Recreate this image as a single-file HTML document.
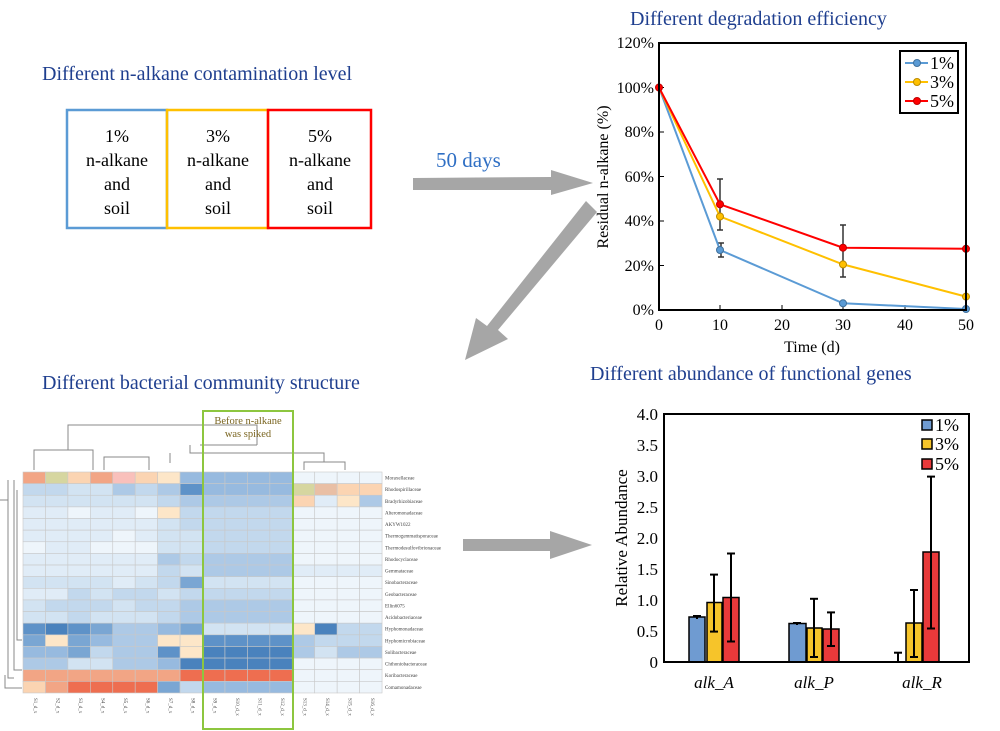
<!DOCTYPE html>
<html><head><meta charset="utf-8"><style>
html,body{margin:0;padding:0;background:#fff;}
svg{display:block;}
text{font-family:"Liberation Serif",serif;}
</style></head><body>
<svg width="1000" height="731" viewBox="0 0 1000 731" xmlns="http://www.w3.org/2000/svg">
<!-- Titles -->
<text x="42" y="80" font-size="20" fill="#1f3f8f">Different n-alkane contamination level</text>
<text x="630" y="25" font-size="20" fill="#1f3f8f">Different degradation efficiency</text>
<text x="42" y="389" font-size="20" fill="#1f3f8f">Different bacterial community structure</text>
<text x="590" y="380" font-size="20" fill="#1f3f8f">Different abundance of functional genes</text>

<!-- Boxes -->
<rect x="67" y="110" width="100" height="118" fill="none" stroke="#5b9bd5" stroke-width="2.5"/>
<rect x="167" y="110" width="101" height="118" fill="none" stroke="#ffc000" stroke-width="2.5"/>
<rect x="268" y="110" width="103" height="118" fill="none" stroke="#ff0000" stroke-width="2.5"/>
<g font-size="18" text-anchor="middle" fill="#000">
<text x="117" y="142">1%</text><text x="117" y="166">n-alkane</text><text x="117" y="190">and</text><text x="117" y="214">soil</text>
<text x="218" y="142">3%</text><text x="218" y="166">n-alkane</text><text x="218" y="190">and</text><text x="218" y="214">soil</text>
<text x="320" y="142">5%</text><text x="320" y="166">n-alkane</text><text x="320" y="190">and</text><text x="320" y="214">soil</text>
</g>
<text x="436" y="167" font-size="21" fill="#2f6fc4">50 days</text>

<!-- Arrows -->
<polygon points="413,178 551,177 551,170 593,183 551,195 551,190 413,190" fill="#a6a6a6"/>
<polygon points="586,201 597,212 498,330 508,339 465,360 476,318 487,326" fill="#a6a6a6"/>
<polygon points="463,539 550,539 550,531 592,545 550,559 550,551 463,551" fill="#a6a6a6"/>

<!-- Line chart -->
<g font-size="16" fill="#000">
<text x="654" y="315" text-anchor="end">0%</text>
<text x="654" y="271" text-anchor="end">20%</text>
<text x="654" y="226" text-anchor="end">40%</text>
<text x="654" y="182" text-anchor="end">60%</text>
<text x="654" y="137" text-anchor="end">80%</text>
<text x="654" y="93" text-anchor="end">100%</text>
<text x="654" y="48" text-anchor="end">120%</text>
<text x="659" y="330" text-anchor="middle">0</text>
<text x="720" y="330" text-anchor="middle">10</text>
<text x="782" y="330" text-anchor="middle">20</text>
<text x="843" y="330" text-anchor="middle">30</text>
<text x="905" y="330" text-anchor="middle">40</text>
<text x="966" y="330" text-anchor="middle">50</text>
<text x="812" y="352" text-anchor="middle">Time (d)</text>
<text transform="translate(608,177) rotate(-90)" text-anchor="middle">Residual n-alkane (%)</text>
</g>
<g stroke="#000" stroke-width="1">
<line x1="720" y1="310" x2="720" y2="305"/><line x1="782" y1="310" x2="782" y2="305"/><line x1="843" y1="310" x2="843" y2="305"/><line x1="905" y1="310" x2="905" y2="305"/>
<line x1="659" y1="265.5" x2="664" y2="265.5"/><line x1="659" y1="221" x2="664" y2="221"/><line x1="659" y1="176.5" x2="664" y2="176.5"/><line x1="659" y1="132" x2="664" y2="132"/><line x1="659" y1="87.5" x2="664" y2="87.5"/>
</g>
<g stroke="#333" stroke-width="1.5">
<line x1="720" y1="179" x2="720" y2="230"/><line x1="717" y1="179" x2="723" y2="179"/><line x1="717" y1="230" x2="723" y2="230"/>
<line x1="721" y1="243" x2="721" y2="257"/><line x1="718" y1="243" x2="724" y2="243"/><line x1="718" y1="257" x2="724" y2="257"/>
<line x1="843" y1="225" x2="843" y2="277"/><line x1="840" y1="225" x2="846" y2="225"/><line x1="840" y1="277" x2="846" y2="277"/>
<line x1="966" y1="279" x2="966" y2="310"/>
</g>
<polyline points="659,87.5 720,250 843,303.3 966,309" fill="none" stroke="#5b9bd5" stroke-width="2"/>
<polyline points="659,87.5 720,216.5 843,264.4 966,296.6" fill="none" stroke="#ffc000" stroke-width="2"/>
<polyline points="659,87.5 720,204.3 843,247.7 966,248.8" fill="none" stroke="#ff0000" stroke-width="2"/>
<g stroke-width="1">
<circle cx="720" cy="250" r="3.5" fill="#5b9bd5" stroke="#41719c"/><circle cx="843" cy="303.3" r="3.5" fill="#5b9bd5" stroke="#41719c"/><circle cx="966" cy="309" r="3.5" fill="#5b9bd5" stroke="#41719c"/>
<circle cx="720" cy="216.5" r="3.5" fill="#ffc000" stroke="#bc8c00"/><circle cx="843" cy="264.4" r="3.5" fill="#ffc000" stroke="#bc8c00"/><circle cx="966" cy="296.6" r="3.5" fill="#ffc000" stroke="#bc8c00"/>
<circle cx="659" cy="87.5" r="3.5" fill="#ff0000" stroke="#c00000"/><circle cx="720" cy="204.3" r="3.5" fill="#ff0000" stroke="#c00000"/><circle cx="843" cy="247.7" r="3.5" fill="#ff0000" stroke="#c00000"/><circle cx="966" cy="248.8" r="3.5" fill="#ff0000" stroke="#c00000"/>
</g>
<rect x="659" y="43" width="307" height="267" fill="none" stroke="#000" stroke-width="2"/>
<rect x="900" y="51" width="58" height="62" fill="#fff" stroke="#000" stroke-width="2"/>
<line x1="905" y1="63" x2="928" y2="63" stroke="#5b9bd5" stroke-width="2"/><circle cx="917" cy="63" r="3.5" fill="#5b9bd5" stroke="#41719c"/>
<line x1="905" y1="82" x2="928" y2="82" stroke="#ffc000" stroke-width="2"/><circle cx="917" cy="82" r="3.5" fill="#ffc000" stroke="#bc8c00"/>
<line x1="905" y1="101" x2="928" y2="101" stroke="#ff0000" stroke-width="2"/><circle cx="917" cy="101" r="3.5" fill="#ff0000" stroke="#c00000"/>
<g font-size="18"><text x="930" y="69">1%</text><text x="930" y="88">3%</text><text x="930" y="107">5%</text></g>

<!-- Bar chart -->
<g font-size="17" fill="#000" text-anchor="end">
<text x="658" y="668">0</text><text x="658" y="637">0.5</text><text x="658" y="606">1.0</text><text x="658" y="575">1.5</text>
<text x="658" y="544">2.0</text><text x="658" y="513">2.5</text><text x="658" y="482">3.0</text><text x="658" y="451">3.5</text><text x="658" y="420">4.0</text>
</g>
<text transform="translate(627,538) rotate(-90)" text-anchor="middle" font-size="17">Relative Abundance</text>
<g font-size="17" font-style="italic" text-anchor="middle">
<text x="714" y="688">alk_A</text><text x="814" y="688">alk_P</text><text x="922" y="688">alk_R</text>
</g>
<g stroke="#000" stroke-width="1.5">
<rect x="689" y="617" width="16" height="45" fill="#6f9bd1"/>
<rect x="707" y="602.5" width="15" height="59.5" fill="#f6c42a"/>
<rect x="723" y="597.5" width="16" height="64.5" fill="#e8393a"/>
<rect x="789" y="623.5" width="17" height="38.5" fill="#6f9bd1"/>
<rect x="807" y="628" width="15" height="34" fill="#f6c42a"/>
<rect x="823" y="629" width="16" height="33" fill="#e8393a"/>
<rect x="906" y="623" width="16" height="39" fill="#f6c42a"/>
<rect x="923" y="552" width="16" height="110" fill="#e8393a"/>
</g>
<g stroke="#000" stroke-width="2">
<line x1="697" y1="616" x2="697" y2="619"/><line x1="693" y1="616" x2="701" y2="616"/>
<line x1="714" y1="574.6" x2="714" y2="631.6"/><line x1="710" y1="574.6" x2="718" y2="574.6"/><line x1="710" y1="631.6" x2="718" y2="631.6"/>
<line x1="731" y1="553.5" x2="731" y2="641.5"/><line x1="727" y1="553.5" x2="735" y2="553.5"/><line x1="727" y1="641.5" x2="735" y2="641.5"/>
<line x1="797" y1="623" x2="797" y2="625"/><line x1="793" y1="623" x2="801" y2="623"/>
<line x1="814" y1="598.8" x2="814" y2="657"/><line x1="810" y1="598.8" x2="818" y2="598.8"/><line x1="810" y1="657" x2="818" y2="657"/>
<line x1="831" y1="612.4" x2="831" y2="646"/><line x1="827" y1="612.4" x2="835" y2="612.4"/><line x1="827" y1="646" x2="835" y2="646"/>
<line x1="898" y1="652.7" x2="898" y2="662"/><line x1="894" y1="652.7" x2="902" y2="652.7"/>
<line x1="914" y1="590" x2="914" y2="657"/><line x1="910" y1="590" x2="918" y2="590"/><line x1="910" y1="657" x2="918" y2="657"/>
<line x1="931" y1="476.6" x2="931" y2="628.5"/><line x1="927" y1="476.6" x2="935" y2="476.6"/><line x1="927" y1="628.5" x2="935" y2="628.5"/>
</g>
<rect x="664" y="414" width="305" height="248" fill="none" stroke="#000" stroke-width="2"/>
<g stroke="#000" stroke-width="1.5">
<rect x="922" y="420" width="10" height="10" fill="#6f9bd1"/>
<rect x="922" y="439" width="10" height="10" fill="#f6c42a"/>
<rect x="922" y="459" width="10" height="10" fill="#e8393a"/>
</g>
<g font-size="18"><text x="935" y="431">1%</text><text x="935" y="450">3%</text><text x="935" y="470">5%</text></g>

<!-- Heatmap -->
<g id="hm" stroke="#c8c8c8" stroke-width="0.6"></g>
<g fill="none" stroke="#888" stroke-width="1">
<polyline points="34,470 34,450 93,450 93,470"/>
<polyline points="68,450 68,425 257,425 257,445"/>
<polyline points="190,445 190,453 324,453 324,460"/>
<polyline points="170,463 170,453"/>
<polyline points="257,445 200,445"/>
<polyline points="304,470 304,462 345,462 345,470"/>
<polyline points="324,462 324,459"/>
<polyline points="104,470 104,457 149,457 149,470"/>
<polyline points="8,480 8,678 14,678"/>
<polyline points="0,500 8,500"/>
<polyline points="14,480 14,670 22,670"/>
<polyline points="17,490 17,640 22,640"/>
<polyline points="5,675 5,688 22,688"/>
</g>
<rect x="203" y="411" width="90" height="318" fill="none" stroke="#8dc63f" stroke-width="2"/>
<g font-size="10.5" fill="#7a6520" text-anchor="middle">
<text x="248" y="424">Before n-alkane</text><text x="248" y="437">was spiked</text>
</g>
<g id="labels" font-family="Liberation Sans,sans-serif" font-size="5" fill="#444"></g>
</svg>
<script>
var C={
'a':'#eef5fb','b':'#e0ecf7','c':'#d2e3f2','d':'#c2d8ed','e':'#adc9e6','f':'#97badf','g':'#7aa6d3','h':'#5e92c8','i':'#4a82bd','y':'#fde6c8','s':'#f2a585','r':'#ee6e50','o':'#d6d6a0','t':'#e9bfa5','p':'#f9c0bb','q':'#fbd4b2'};
var rows=[
'soqspqyf ffff aaaa',
'ddccedeh ffff otqq',
'ccccccde eeee qbye',
'bbabbayd dddd aaaa',
'bbbbbbcd dddd aaaa',
'bbbbabcc dddd aaaa',
'abbaaacc dddd aaaa',
'bbbbbbed eeee aaaa',
'bbbbbbdc eeee bbbb',
'ccccbcdg cccc aaaa',
'bbdcddcd dddd aaaa',
'cdddcdde eeee aaaa',
'ccdcccde eeee aaaa',
'hihgeefg cccc yidd',
'gygfeeyy hhhh eddd',
'ffgdeehy iiii ecee',
'eecceefi iiii aaaa',
'sssssssr rrrr aaaa',
'qsrrrrgd ffff aaaa'];
var g=document.getElementById('hm'),ns='http://www.w3.org/2000/svg';
var x0=23,y0=472,cw=22.44,rh=11.63;
rows.forEach(function(r,i){var s=r.replace(/ /g,'');for(var j=0;j<16;j++){var e=document.createElementNS(ns,'rect');e.setAttribute('x',x0+j*cw);e.setAttribute('y',y0+i*rh);e.setAttribute('width',cw);e.setAttribute('height',rh);e.setAttribute('fill',C[s[j]]);g.appendChild(e);}});
var names=['Moraxellaceae','Rhodospirillaceae','Bradyrhizobiaceae','Alteromonadaceae','AKYW1022','Thermogemmatisporaceae','Thermodesulfovibrionaceae','Rhodocyclaceae','Gemmataceae','Sinobacteraceae','Geobacteraceae','Ellin6075','Acidobacteriaceae','Hyphomonadaceae','Hyphomicrobiaceae','Solibacteraceae','Chthoniobacteraceae','Koribacteraceae','Comamonadaceae'];
var L=document.getElementById('labels');
names.forEach(function(n,i){var t=document.createElementNS(ns,'text');t.setAttribute('x',385);t.setAttribute('y',y0+i*rh+7.5);t.textContent=n;L.appendChild(t);});
for(var j=0;j<16;j++){var t=document.createElementNS(ns,'text');var cx=x0+j*cw+cw/2;t.setAttribute('transform','translate('+cx+',698) rotate(90)');t.textContent='S'+(j+1)+'_d_x';L.appendChild(t);}
</script>
</body></html>
